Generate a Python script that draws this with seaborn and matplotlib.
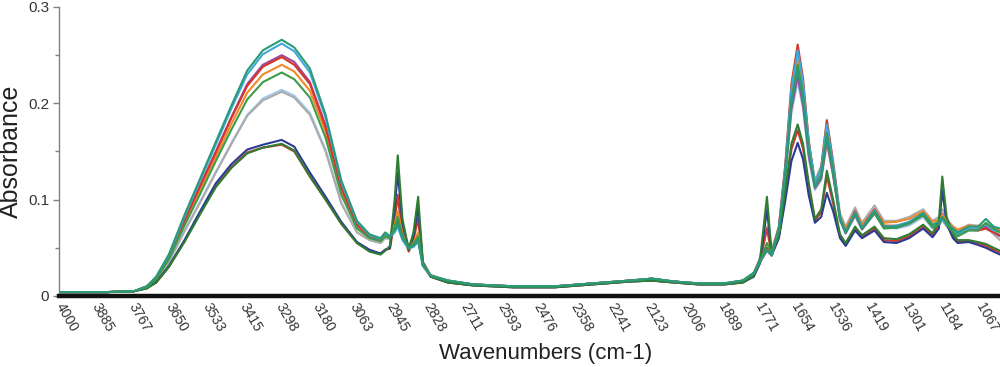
import numpy as np
import pandas as pd
import matplotlib
matplotlib.use("Agg")
import matplotlib.pyplot as plt
import seaborn as sns
from matplotlib.ticker import MultipleLocator

# ---------------- data ----------------
wavenumbers = [4000, 3850, 3760, 3720, 3690, 3650, 3600, 3550, 3500, 3450, 3400, 3350, 3290, 3250, 3200, 3150, 3100, 3050,
               3010, 2975, 2960, 2945, 2930, 2920, 2905, 2885, 2870, 2855, 2840, 2815,
               2760, 2680, 2550, 2420, 2300, 2180, 2110, 2040, 1960, 1880, 1820,
               1785, 1765, 1743, 1728, 1705, 1685, 1665, 1645, 1628, 1610, 1590, 1570, 1552, 1532, 1510, 1492,
               1462, 1440, 1400, 1370, 1330, 1290, 1245, 1215, 1195, 1184, 1170, 1150, 1135, 1100, 1070, 1045,
               1020, 1000]

teal = [.004, .004, .005, .010, .020, .043, .084, .122, .160, .198, .234, .255, .266, .258, .236, .188, .120, .078,
        .064, .060, .066, .062, .068, .075, .060, .050, .052, .058, .032, .021,
        .016, .012, .010, .010, .013, .016, .018, .015, .013, .013, .016,
        .024, .036, .048, .042, .068, .125, .200, .235, .205, .150, .114, .124, .165, .128, .080, .066,
        .086, .070, .088, .072, .072, .076, .086, .074, .077, .082, .076, .070, .066, .072, .072, .080,
        .072, .070]

cyan = [.004, .004, .005, .010, .020, .042, .082, .120, .157, .195, .230, .251, .262, .254, .232, .185, .118, .077,
        .063, .059, .065, .061, .066, .072, .058, .049, .051, .056, .031, .021,
        .016, .012, .010, .010, .013, .016, .018, .015, .013, .013, .016,
        .024, .036, .048, .043, .070, .132, .215, .255, .222, .160, .118, .132, .178, .136, .082, .067,
        .087, .071, .089, .072, .073, .077, .086, .073, .076, .080, .075, .068, .064, .070, .070, .074,
        .068, .066]

red_high = [.004, .004, .005, .010, .019, .040, .078, .114, .149, .185, .218, .238, .248, .240, .220, .175, .112, .074,
            .062, .058, .064, .061, .070, .080, .062, .050, .053, .060, .032, .021,
            .015, .012, .010, .010, .013, .016, .018, .015, .013, .013, .015,
            .024, .037, .050, .044, .072, .135, .220, .261, .226, .162, .116, .133, .182, .138, .082, .067,
            .088, .071, .090, .073, .073, .076, .085, .072, .076, .082, .075, .068, .064, .069, .068, .070,
            .066, .063]

purple = [.004, .004, .005, .010, .019, .040, .079, .115, .150, .186, .220, .240, .250, .243, .222, .177, .113, .074,
          .062, .058, .064, .061, .069, .078, .061, .050, .052, .060, .032, .021,
          .015, .012, .010, .010, .013, .016, .017, .015, .013, .013, .015,
          .023, .035, .047, .042, .067, .122, .194, .228, .198, .146, .112, .122, .162, .126, .079, .065,
          .084, .069, .086, .071, .071, .075, .084, .072, .075, .080, .074, .068, .064, .070, .069, .072,
          .066, .062]

orange = [.004, .004, .005, .010, .018, .039, .076, .110, .144, .179, .211, .230, .240, .233, .213, .170, .108, .072,
          .061, .057, .063, .061, .074, .088, .064, .051, .055, .066, .033, .021,
          .016, .012, .010, .010, .013, .016, .018, .015, .013, .013, .016,
          .024, .036, .050, .043, .069, .128, .207, .245, .213, .154, .114, .123, .160, .126, .082, .070,
          .088, .074, .090, .076, .077, .080, .088, .077, .079, .084, .078, .072, .069, .073, .072, .074,
          .070, .068]

green = [.004, .004, .005, .009, .018, .038, .073, .106, .140, .173, .204, .222, .232, .225, .206, .164, .105, .070,
         .060, .057, .062, .060, .071, .082, .062, .050, .054, .062, .032, .021,
         .016, .012, .010, .010, .013, .016, .018, .015, .013, .013, .016,
         .023, .035, .055, .045, .069, .126, .203, .240, .209, .152, .113, .126, .169, .130, .080, .066,
         .085, .070, .086, .070, .071, .075, .084, .071, .074, .082, .074, .066, .062, .068, .068, .076,
         .070, .066]

gray = [.004, .004, .005, .009, .017, .035, .067, .097, .128, .158, .187, .203, .212, .206, .188, .150, .096, .066,
        .058, .055, .060, .060, .082, .100, .070, .052, .062, .085, .036, .022,
        .016, .012, .010, .010, .013, .016, .018, .015, .013, .013, .016,
        .024, .040, .072, .048, .072, .132, .212, .250, .218, .160, .120, .135, .183, .140, .086, .072,
        .092, .076, .094, .078, .078, .082, .090, .078, .082, .090, .080, .072, .068, .074, .073, .072,
        .064, .058]

light_blue = [.004, .004, .005, .009, .017, .035, .068, .098, .129, .159, .188, .205, .214, .208, .190, .152, .097, .066,
              .058, .055, .060, .059, .070, .080, .060, .049, .053, .064, .032, .021,
              .016, .012, .010, .010, .013, .016, .018, .015, .013, .013, .016,
              .023, .035, .048, .042, .066, .120, .190, .222, .194, .143, .110, .120, .158, .124, .078, .065,
              .083, .069, .085, .071, .070, .073, .082, .070, .073, .078, .072, .066, .062, .068, .068, .070,
              .065, .062]

navy = [.004, .004, .005, .008, .015, .031, .058, .088, .117, .137, .152, .157, .162, .155, .128, .103, .077, .056,
        .048, .044, .048, .050, .090, .128, .075, .048, .062, .092, .034, .020,
        .014, .011, .009, .009, .012, .015, .016, .014, .012, .012, .014,
        .020, .034, .090, .042, .060, .098, .140, .159, .142, .105, .076, .082, .107, .088, .060, .052,
        .068, .060, .068, .056, .055, .060, .070, .061, .070, .110, .075, .060, .055, .056, .053, .050,
        .046, .043]

dark_green = [.004, .004, .005, .008, .014, .030, .056, .085, .113, .133, .148, .154, .158, .151, .124, .100, .075, .055,
              .046, .043, .047, .052, .100, .146, .080, .048, .066, .103, .035, .020,
              .014, .011, .009, .009, .012, .015, .016, .014, .012, .012, .014,
              .021, .038, .103, .045, .062, .108, .158, .178, .158, .118, .080, .090, .130, .100, .064, .055,
              .072, .063, .072, .060, .059, .064, .074, .065, .078, .124, .082, .064, .058, .058, .056, .054,
              .050, .047]

red_low = [.004, .004, .005, .008, .014, .030, .057, .086, .114, .134, .149, .154, .157, .150, .124, .100, .075, .055,
           .047, .044, .048, .049, .078, .105, .065, .046, .058, .080, .032, .020,
           .014, .011, .009, .009, .012, .015, .016, .014, .012, .012, .014,
           .021, .035, .070, .043, .061, .105, .152, .172, .153, .114, .078, .087, .124, .096, .062, .054,
           .070, .062, .070, .058, .057, .062, .072, .063, .074, .085, .074, .062, .057, .057, .055, .052,
           .048, .045]

series = {
    "light blue": light_blue, "gray": gray, "red low": red_low, "navy": navy,
    "orange": orange, "purple": purple, "red high": red_high, "cyan": cyan,
    "dark green": dark_green, "green": green, "teal": teal,
}
colors = {
    "light blue": "#9FC9EB", "gray": "#ABABAB", "red low": "#CC3A30", "navy": "#2B3A92",
    "orange": "#F0892A", "purple": "#9B4A9E", "red high": "#D7352B", "cyan": "#3FA9D9",
    "dark green": "#2F7D34", "green": "#3E9B48", "teal": "#2A9A78",
}

x_tick_labels = ["4000", "3885", "3767", "3650", "3533", "3415", "3298", "3180", "3063", "2945",
                 "2828", "2711", "2593", "2476", "2358", "2241", "2123", "2006", "1889", "1771",
                 "1654", "1536", "1419", "1301", "1184", "1067"]

# ---------------- long-form table ----------------
rows = []
for name, vals in series.items():
    assert len(vals) == len(wavenumbers), name
    for w, v in zip(wavenumbers, vals):
        rows.append((name, w, v))
df = pd.DataFrame(rows, columns=["sample", "wn", "absorbance"])

# ---------------- plot ----------------
sns.set_style("white")
plt.rcParams['font.family'] = ['Liberation Sans', 'DejaVu Sans']

fig = plt.figure(figsize=(10, 3.67), dpi=100)
ax = fig.add_axes([0.059, 0.1935, 0.941, 0.7875])

sns.lineplot(data=df, x="wn", y="absorbance", hue="sample", hue_order=list(series.keys()),
             palette=colors, estimator=None, linewidth=1.5, legend=False, ax=ax)

ax.set_xlim(4000, 1000)
ax.set_ylim(0, 0.3)

ax.set_xticks([int(t) for t in x_tick_labels])
ax.set_xticklabels(x_tick_labels)
ax.tick_params(axis='x', length=0, pad=6, labelsize=10, labelcolor='#333333')
for lbl in ax.get_xticklabels():
    lbl.set_rotation(-60)
    lbl.set_ha('left')
    lbl.set_va('center')
    lbl.set_rotation_mode('anchor')

ax.set_yticks([0, 0.1, 0.2, 0.3])
ax.set_yticklabels(["0", "0.1", "0.2", "0.3"])
ax.yaxis.set_minor_locator(MultipleLocator(0.05))
ax.tick_params(axis='y', which='major', direction='out', length=4, width=1, color='#808080',
               pad=3, labelsize=11, labelcolor='#333333', left=True)
ax.tick_params(axis='y', which='minor', direction='out', length=3, width=1, color='#808080', left=True)

for s in ["top", "right"]:
    ax.spines[s].set_visible(False)
ax.spines["left"].set_color('#808080')
ax.spines["left"].set_linewidth(1)
ax.spines["bottom"].set_color('#111111')
ax.spines["bottom"].set_linewidth(3.2)

ax.set_ylabel("Absorbance", fontsize=18, color='#222222', labelpad=4)
ax.set_xlabel("Wavenumbers (cm-1)", fontsize=16, color='#222222')
ax.xaxis.set_label_coords(0.5175, -0.2)
ax.xaxis.label.set_va('center')

fig.savefig("out.png", dpi=100)
